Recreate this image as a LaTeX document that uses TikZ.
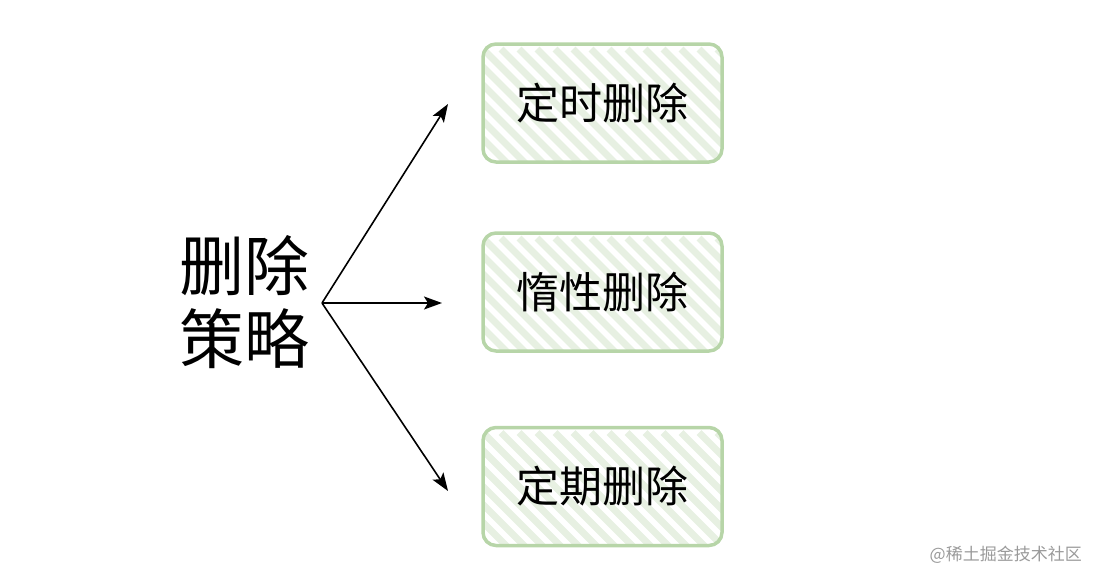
\documentclass[tikz,border=0pt]{standalone}
\usepackage{fontspec}
\newfontfamily\cjk{Noto Sans CJK SC}
\usetikzlibrary{arrows.meta,calc}
\definecolor{boxline}{HTML}{B7D5A8}
\definecolor{hatchc}{HTML}{E7F0E2}
\definecolor{wm}{HTML}{9A9A9A}
\tikzset{
  hatchbox/.style={draw=boxline, line width=3.5pt, rounded corners=13pt,
    minimum width=239pt, minimum height=118pt, inner sep=0pt,
    font=\cjk\fontsize{43pt}{47pt}\selectfont,
    path picture={
      \foreach \i in {-10,...,16}
        \draw[hatchc, line width=7pt]
          ($(path picture bounding box.north west)+(\i*18pt,-5pt)$) -- ++(150pt,-150pt);
    }},
  arr/.style={line width=1.6pt, -{Stealth[length=18pt,width=13pt,inset=4pt]}},
  bigtext/.style={font=\cjk\fontsize{65pt}{73pt}\selectfont, align=center, inner sep=0pt}
}
\begin{document}
\begin{tikzpicture}[x=1pt,y=-1pt]
\useasboundingbox (0,0) rectangle (1100,584);
\node[hatchbox] (b1) at (602.5,103) {定时删除};
\node[hatchbox] (b2) at (602.5,292) {惰性删除};
\node[hatchbox] (b3) at (602.5,486.5) {定期删除};
\node[bigtext] (t) at (244,302) {删除\\策略};
\coordinate (s) at (322,303);
\coordinate (e1) at (448,104);
\coordinate (e2) at (442,303);
\coordinate (e3) at (448,491);
\draw[arr] (s) -- (e1);
\draw[arr] (s) -- (e2);
\draw[arr] (s) -- (e3);
\node[font=\cjk\fontsize{17pt}{20pt}\selectfont, text=wm, anchor=east, inner sep=0pt] (w) at (1082,555) {@稀土掘金技术社区};
\end{tikzpicture}
\end{document}
